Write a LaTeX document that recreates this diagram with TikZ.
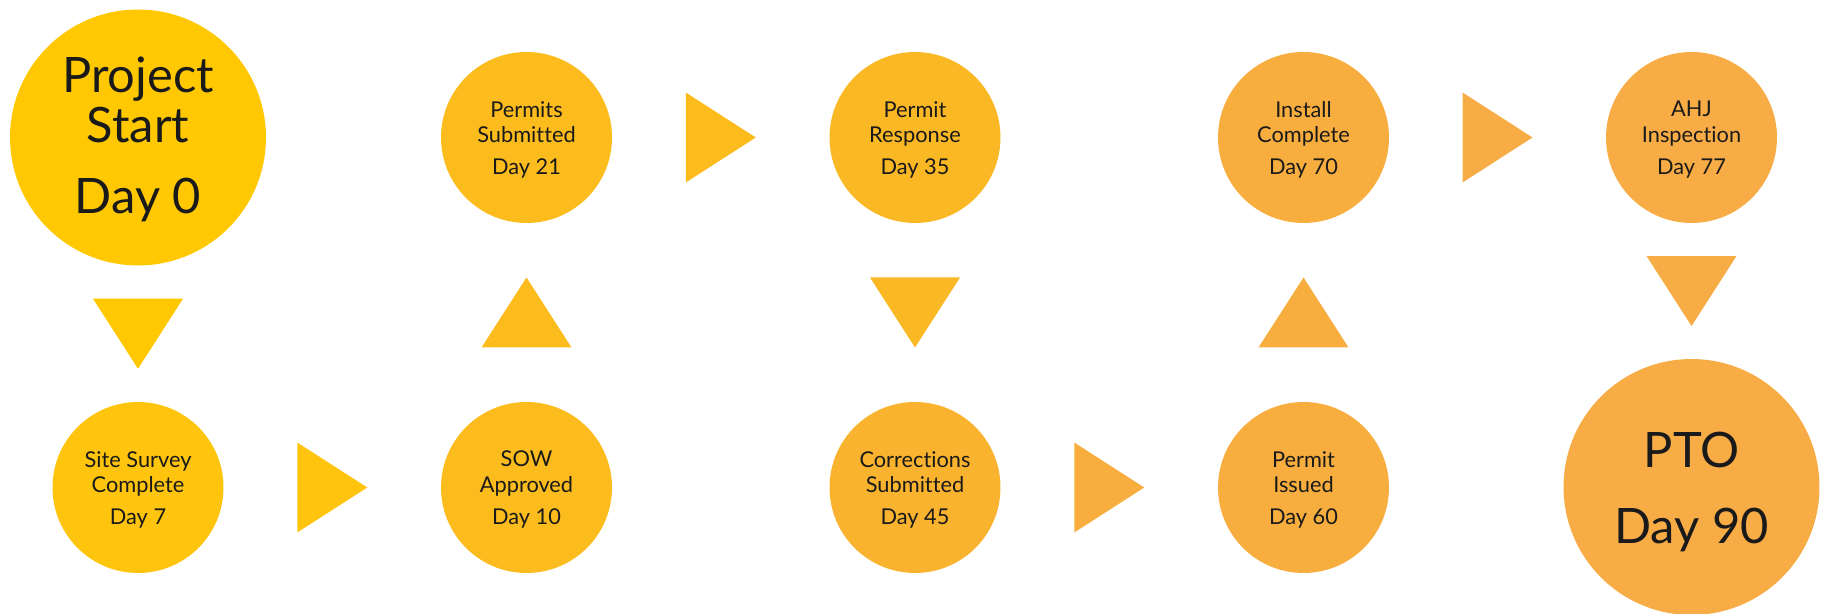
\documentclass[tikz,border=0pt]{standalone}
\usepackage{fontspec}
\setmainfont{Lato}[Ligatures=NoCommon]
\usetikzlibrary{calc}

\definecolor{inkgray}{HTML}{1A1A1A}
\definecolor{goldA}{HTML}{FFC800}
\definecolor{goldB}{HTML}{FFC40D}
\definecolor{goldC}{HTML}{FCBC1D}
\definecolor{goldD}{HTML}{FBB825}
\definecolor{goldE}{HTML}{FAB32E}
\definecolor{amberA}{HTML}{F8AE3E}
\definecolor{amberB}{HTML}{F8AC46}

\begin{document}
\begin{tikzpicture}[x=0.02cm, y=0.02cm,
  smalltext/.style={align=center, text=inkgray, inner sep=0pt, yshift=-1.3pt,
    font=\fontsize{12.4}{14.6}\selectfont},
  bigtext/.style={smalltext, font=\fontsize{27.8}{28.4}\selectfont},
  milestone/.style={circle, inner sep=0pt, minimum size=3.42cm,
    label={[smalltext]center:#1}},
  bigstone/.style={circle, inner sep=0pt, minimum size=5.12cm,
    label={[bigtext]center:#1}},
  tri/.pic={\fill[#1] (-35,-45) -- (-35,45) -- (35,0) -- cycle;}]
  \useasboundingbox (0,0) rectangle (1832,-614);

  % Milestones, top row
  \node[bigstone={Project\\Start\\[12pt]Day 0}, fill=goldA] (start) at (138,-137.5) {};
  \node[milestone={Permits\\Submitted\\[3.6pt]Day 21}, fill=goldC] (permsub) at (526.5,-137.5) {};
  \node[milestone={Permit\\Response\\[3.6pt]Day 35}, fill=goldD] (resp) at (915,-137.5) {};
  \node[milestone={Install\\Complete\\[3.6pt]Day 70}, fill=amberA] (install) at (1303.5,-137.5) {};
  \node[milestone={AHJ\\Inspection\\[3.6pt]Day 77}, fill=amberB] (ahj) at (1691.5,-137.5) {};

  % Milestones, bottom row
  \node[milestone={Site Survey\\Complete\\[3.6pt]Day 7}, fill=goldB] (survey) at (138,-487.5) {};
  \node[milestone={SOW\\Approved\\[3.6pt]Day 10}, fill=goldC] (sow) at (526.5,-487.5) {};
  \node[milestone={Corrections\\Submitted\\[3.6pt]Day 45}, fill=goldE] (corr) at (915,-487.5) {};
  \node[milestone={Permit\\Issued\\[3.6pt]Day 60}, fill=amberA] (issued) at (1303.5,-487.5) {};
  \node[circle, inner sep=0pt, minimum size=5.12cm, fill=amberB,
    label={[bigtext, yshift=-1.7pt]center:{PTO\\[14.7pt]Day 90}}] (pto) at (1691.5,-487) {};

  % Triangles half way between the milestones
  \coordinate (m1) at ($(start.south)!0.5!(survey.north)$);
  \coordinate (m2) at ($(survey.east)!0.5!(sow.west)$);
  \coordinate (m3) at ($(sow.north)!0.5!(permsub.south)$);
  \coordinate (m4) at ($(permsub.east)!0.5!(resp.west)$);
  \coordinate (m5) at ($(resp.south)!0.5!(corr.north)$);
  \coordinate (m6) at ($(corr.east)!0.5!(issued.west)$);
  \coordinate (m7) at ($(issued.north)!0.5!(install.south)$);
  \coordinate (m8) at ($(install.east)!0.5!(ahj.west)$);
  \coordinate (m9) at ($(ahj.south)!0.5!(pto.north)$);

  \pic[rotate=-90] at (m1) {tri=goldA};
  \pic at (m2) {tri=goldB};
  \pic[rotate=90] at (m3) {tri=goldC};
  \pic at (m4) {tri=goldC};
  \pic[rotate=-90] at (m5) {tri=goldD};
  \pic at (m6) {tri=amberA};
  \pic[rotate=90] at (m7) {tri=amberA};
  \pic at (m8) {tri=amberB};
  \pic[rotate=-90] at (m9) {tri=amberB};
\end{tikzpicture}
\end{document}
